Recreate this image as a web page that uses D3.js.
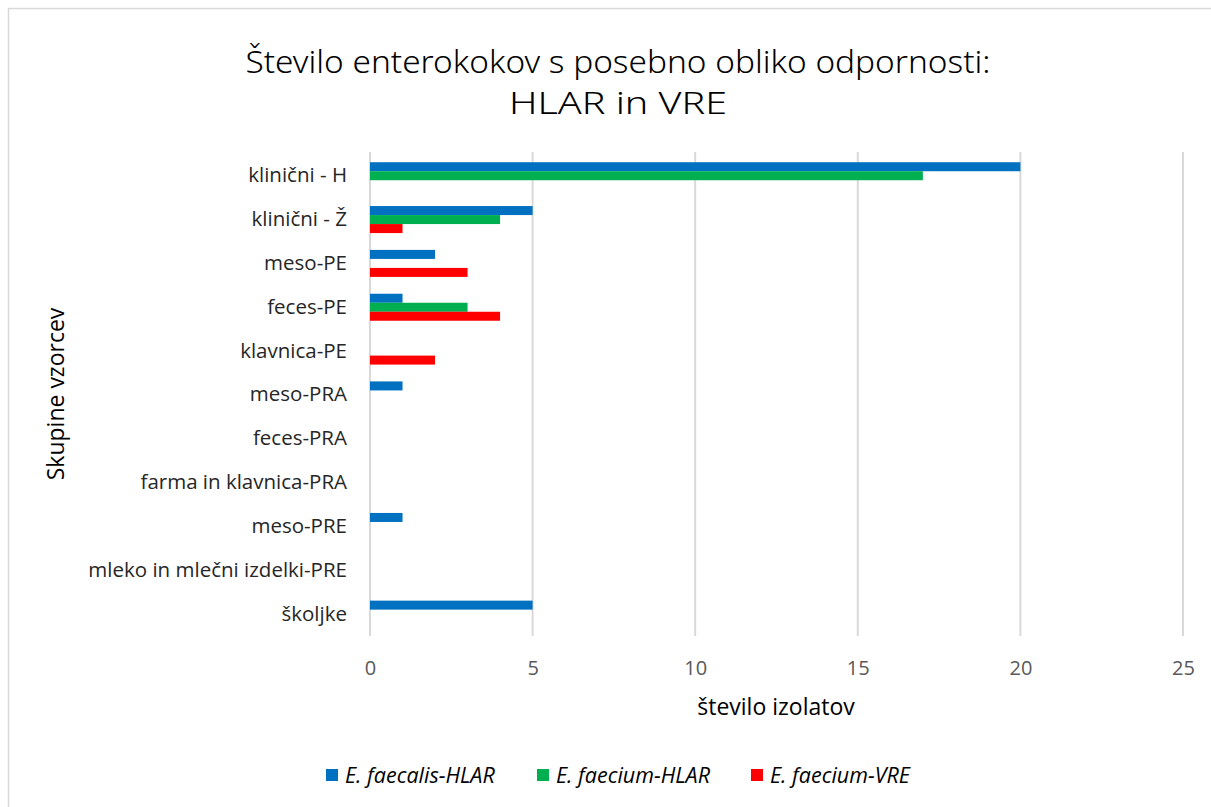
<!DOCTYPE html>
<html>
<head>
<meta charset="utf-8">
<script src="https://cdn.jsdelivr.net/npm/d3@7"></script>
<style>
  body { margin: 0; background: #fff; }
  svg { display: block; }
</style>
</head>
<body>
<svg id="chart" width="1211" height="807"></svg>
<script>
// data
const categories = [
  "klinični - H", "klinični - Ž", "meso-PE", "feces-PE", "klavnica-PE",
  "meso-PRA", "feces-PRA", "farma in klavnica-PRA", "meso-PRE",
  "mleko in mlečni izdelki-PRE", "školjke"
];
const seriesNames = ["E. faecalis-HLAR", "E. faecium-HLAR", "E. faecium-VRE"];
const faecalisHLAR = [20, 5, 2, 1, 0, 1, 0, 0, 1, 0, 5];
const faeciumHLAR  = [17, 4, 0, 3, 0, 0, 0, 0, 0, 0, 0];
const faeciumVRE   = [0, 1, 3, 4, 2, 0, 0, 0, 0, 0, 0];
const seriesColors = ["#0070c0", "#00b050", "#ff0000"];
const xTicks = [0, 5, 10, 15, 20, 25];

const seriesValues = [faecalisHLAR, faeciumHLAR, faeciumVRE];
const rows = categories.map((c, i) => ({
  cat: c,
  vals: seriesNames.map((s, j) => ({ key: s, idx: j, v: seriesValues[j][i] }))
}));

const svg = d3.select("#chart");
const font = "'Open Sans', 'Noto Sans', sans-serif";

// outer frame (only top and left edges are visible)
svg.append("rect")
  .attr("x", 8.5).attr("y", 8.5)
  .attr("width", 1250).attr("height", 850)
  .attr("fill", "none")
  .attr("stroke", "#d9d9d9")
  .attr("stroke-width", 1.5);

const x = d3.scaleLinear().domain([0, 25]).range([370, 1183]);
const y = d3.scaleBand().domain(categories).range([152, 636])
  .paddingInner(0.384).paddingOuter(0.212).align(0.55);
const ySub = d3.scaleBand().domain(d3.range(seriesNames.length))
  .range([0, y.bandwidth()]);

// gridlines
svg.append("g")
  .selectAll("line")
  .data(xTicks)
  .join("line")
  .attr("x1", d => x(d)).attr("x2", d => x(d))
  .attr("y1", 152).attr("y2", 636)
  .attr("stroke", "#d9d9d9")
  .attr("stroke-width", 2);

// bars
svg.append("g")
  .selectAll("g")
  .data(rows)
  .join("g")
  .attr("transform", d => `translate(0,${y(d.cat)})`)
  .selectAll("rect")
  .data(d => d.vals.filter(v => v.v > 0))
  .join("rect")
  .attr("x", x(0))
  .attr("y", d => ySub(d.idx))
  .attr("width", d => x(d.v) - x(0))
  .attr("height", ySub.bandwidth())
  .attr("fill", d => seriesColors[d.idx]);

// x axis tick labels
const xAxis = d3.axisBottom(x).tickValues(xTicks).tickSize(0).tickPadding(0);
const gx = svg.append("g").attr("transform", "translate(0,661)").call(xAxis);
gx.select(".domain").remove();
gx.selectAll("text")
  .attr("font-family", font)
  .attr("font-size", 20)
  .attr("fill", "#595959");

// y axis category labels
const yAxis = d3.axisLeft(y).tickSize(0).tickPadding(0);
const gy = svg.append("g").attr("transform", "translate(347,0)").call(yAxis);
gy.select(".domain").remove();
gy.selectAll("text")
  .attr("font-family", font)
  .attr("font-size", 20.5)
  .attr("fill", "#262626");

// title
const title = svg.append("text")
  .attr("x", 618)
  .attr("font-family", "'Noto Sans', sans-serif")
  .attr("font-weight", 300)
  .attr("font-size", 31)
  .attr("fill", "#000")
  .attr("text-anchor", "middle");
title.append("tspan").attr("x", 618).attr("y", 73)
  .attr("textLength", 745).attr("lengthAdjust", "spacingAndGlyphs")
  .text("Število enterokokov s posebno obliko odpornosti:");
title.append("tspan").attr("x", 618).attr("y", 114)
  .attr("textLength", 218).attr("lengthAdjust", "spacingAndGlyphs")
  .text("HLAR in VRE");

// axis titles
svg.append("text")
  .attr("x", 776).attr("y", 715)
  .attr("text-anchor", "middle")
  .attr("font-family", font)
  .attr("font-size", 23)
  .attr("fill", "#000")
  .text("število izolatov");

svg.append("text")
  .attr("transform", "translate(64,394) rotate(-90)")
  .attr("text-anchor", "middle")
  .attr("font-family", font)
  .attr("font-size", 23)
  .attr("fill", "#000")
  .text("Skupine vzorcev");

// legend
const legendX = [326, 537, 751];
const legend = svg.append("g")
  .selectAll("g")
  .data(seriesNames)
  .join("g")
  .attr("transform", (d, i) => `translate(${legendX[i]},769)`);
legend.append("rect")
  .attr("width", 12).attr("height", 12)
  .attr("fill", (d, i) => seriesColors[i]);
legend.append("text")
  .attr("x", 19).attr("y", 13.5)
  .attr("font-family", font)
  .attr("font-style", "italic")
  .attr("font-size", 21.5)
  .attr("fill", "#000")
  .text(d => d);
</script>
</body>
</html>
